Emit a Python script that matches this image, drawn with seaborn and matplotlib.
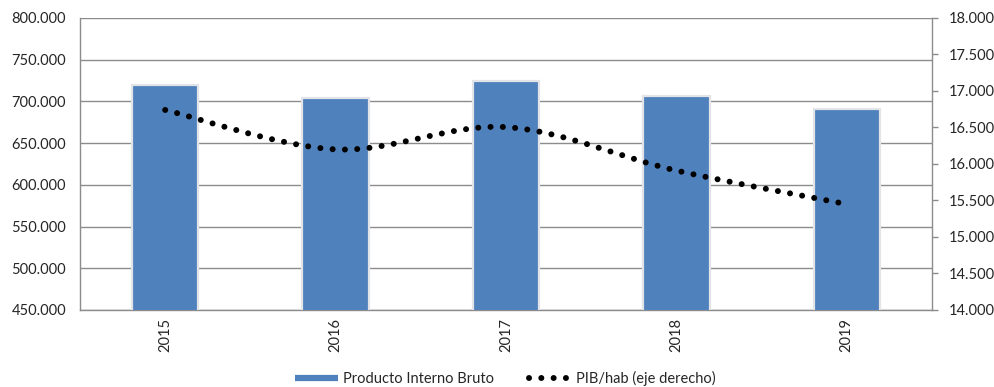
import numpy as np
import pandas as pd
import matplotlib
matplotlib.use("Agg")
import matplotlib.pyplot as plt
from matplotlib.path import Path
from matplotlib.patches import PathPatch
from matplotlib.lines import Line2D
from matplotlib.ticker import FuncFormatter, MultipleLocator
import seaborn as sns

# Data
years = ["2015", "2016", "2017", "2018", "2019"]
pib = [720000, 704500, 725000, 706500, 691500]          # Producto Interno Bruto
pib_hab = [16740, 16200, 16505, 15910, 15450]           # PIB/hab (eje derecho)

BLUE = "#4F81BD"
GRID = "#8c8c8c"

sns.set_theme(style="white")
plt.rcParams["font.family"] = ["Lato", "DejaVu Sans"]
plt.rcParams["font.size"] = 10.5

fig = plt.figure(figsize=(9.95, 3.87), dpi=100)
ax = fig.add_axes([0.0804, 0.199, 0.8563, 0.7545])

df = pd.DataFrame({"year": years, "pib": pib})
sns.barplot(data=df, x="year", y="pib", color=BLUE, width=0.39, saturation=1,
            edgecolor="#e2e4e8", linewidth=1.6, ax=ax, zorder=3)

thousands = FuncFormatter(lambda v, _: f"{v:,.0f}".replace(",", "."))

ax.set_ylim(450000, 800000)
ax.yaxis.set_major_locator(MultipleLocator(50000))
ax.yaxis.set_major_formatter(thousands)
ax.set_xlim(-0.5, 4.5)
ax.grid(axis="y", color=GRID, linewidth=1.0, zorder=0)
ax.set_axisbelow(True)
ax.set_xlabel("")
ax.set_ylabel("")
for side in ["left", "bottom"]:
    ax.spines[side].set_color(GRID)
    ax.spines[side].set_linewidth(1.0)
for side in ["top", "right"]:
    ax.spines[side].set_visible(False)
ax.tick_params(axis="y", length=0, pad=10, labelsize=10.5, colors="#262626")
ax.tick_params(axis="x", length=0, pad=6, labelsize=10.5, colors="#262626")
for lab in ax.get_xticklabels():
    lab.set_rotation(90)

# Secondary axis: smoothed per-capita line
ax2 = ax.twinx()
ax2.set_ylim(14000, 18000)
ax2.yaxis.set_major_locator(MultipleLocator(500))
ax2.yaxis.set_major_formatter(thousands)
ax2.spines["right"].set_color(GRID)
ax2.spines["right"].set_linewidth(1.0)
for side in ["top", "left", "bottom"]:
    ax2.spines[side].set_visible(False)
ax2.tick_params(axis="y", direction="out", length=4, width=1, color=GRID,
                pad=8, labelsize=10.5, colors="#262626")
ax2.tick_params(axis="y", color=GRID)
ax2.grid(False)

# Smoothed curve through the points (cubic Bezier segments)
xs = np.arange(len(pib_hab), dtype=float)
ys = np.asarray(pib_hab, dtype=float)
verts = [(xs[0], ys[0])]
codes = [Path.MOVETO]
n = len(xs)
for i in range(n - 1):
    p0 = (xs[max(i - 1, 0)], ys[max(i - 1, 0)])
    p1 = (xs[i], ys[i])
    p2 = (xs[i + 1], ys[i + 1])
    p3 = (xs[min(i + 2, n - 1)], ys[min(i + 2, n - 1)])
    c1 = (p1[0] + (p2[0] - p0[0]) / 6, p1[1] + (p2[1] - p0[1]) / 6)
    c2 = (p2[0] - (p3[0] - p1[0]) / 6, p2[1] - (p3[1] - p1[1]) / 6)
    verts += [c1, c2, p2]
    codes += [Path.CURVE4] * 3
curve = PathPatch(Path(verts, codes), facecolor="none", edgecolor="black",
                  linewidth=4.3, linestyle=(0, (0.01, 2.05)),
                  capstyle="round", zorder=5)
ax2.add_patch(curve)

# Legend
handles = [
    Line2D([], [], color=BLUE, linewidth=4.5, solid_capstyle="butt"),
    Line2D([], [], color="black", linewidth=4.3, linestyle=(0, (0.01, 2.05)),
           dash_capstyle="round"),
]
labels = ["Producto Interno Bruto", "PIB/hab (eje derecho)"]
fig.legend(handles, labels, loc="center", bbox_to_anchor=(0.508, 0.022),
           ncol=2, frameon=False, fontsize=10.5, handlelength=2.9,
           handletextpad=0.35, columnspacing=2.4)

fig.savefig("out.png", dpi=100)
